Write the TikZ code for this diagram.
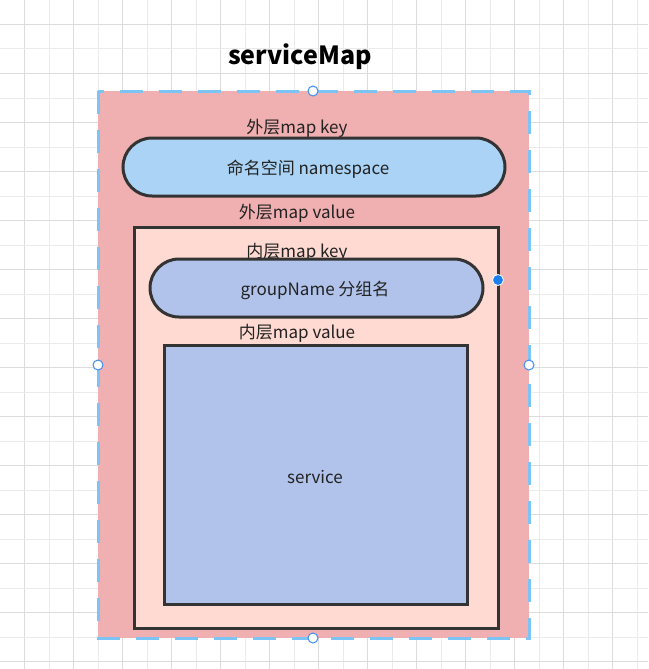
\documentclass[tikz,border=0pt]{standalone}
\usepackage{fontspec}
\setmainfont{Noto Sans CJK SC}
\definecolor{gridA}{HTML}{DCDCDC}
\definecolor{gridB}{HTML}{EBEBEB}
\definecolor{outerfill}{HTML}{F0B0B2}
\definecolor{dashblue}{HTML}{7DC4F6}
\definecolor{pillblue}{HTML}{AAD3F5}
\definecolor{innerfill}{HTML}{FFDAD2}
\definecolor{lavender}{HTML}{B1C3EA}
\definecolor{edge}{HTML}{333333}
\definecolor{txt}{HTML}{222222}
\definecolor{handle}{HTML}{3D8FF0}
\definecolor{dotblue}{HTML}{1A7FF0}
\tikzset{
  lbl/.style={font=\fontsize{17}{19}\selectfont, text=txt, inner sep=0pt},
  boxline/.style={draw=edge, line width=3pt},
  pill/.style={boxline, rounded corners=29pt},
  handlept/.style={circle, draw=handle, fill=white, line width=1pt, minimum size=10pt, inner sep=0pt},
}
\begin{document}
\begin{tikzpicture}[x=1pt,y=-1pt]
\useasboundingbox (0,0) rectangle (648,669);
\fill[white] (0,0) rectangle (648,669);
% grid
\foreach \k in {1,...,26} {
  \pgfmathtruncatemacro{\odd}{mod(\k,2)}
  \ifnum\odd=1
    \draw[gridA, line width=1pt] (24.5*\k,0) -- (24.5*\k,669);
  \else
    \draw[gridB, line width=1pt] (24.5*\k,0) -- (24.5*\k,669);
  \fi
}
\foreach \k in {1,...,27} {
  \pgfmathtruncatemacro{\odd}{mod(\k,2)}
  \ifnum\odd=1
    \draw[gridA, line width=1pt] (0,24.5*\k) -- (648,24.5*\k);
  \else
    \draw[gridB, line width=1pt] (0,24.5*\k) -- (648,24.5*\k);
  \fi
}
% title
\node[lbl, font=\fontsize{25}{29}\selectfont\bfseries, text=black] (title) at (300,57) {serviceMap};
% outer container
\fill[outerfill] (98,91) rectangle (529,638);
\draw[dashblue, line width=3pt, dash pattern=on 23pt off 16pt] (98,91) rectangle (529,638);
\node[lbl] (okey) at (297,128.5) {外层map key};
% namespace pill
\draw[pill, fill=pillblue] (123,138) rectangle (505,196);
\node[lbl] (ns) at (308,169.5) {命名空间 namespace};
\node[lbl] (oval) at (297,213.5) {外层map value};
% inner box
\draw[boxline, fill=innerfill] (134,227) rectangle (498,628);
\node[lbl] (ikey) at (297,252.5) {内层map key};
\draw[pill, fill=lavender] (150,259) rectangle (483,317);
\node[lbl] (grp) at (315,290.5) {groupName 分组名};
\node[lbl] (ival) at (297,333.5) {内层map value};
% service box
\draw[boxline, fill=lavender] (164,345) rectangle (467,604);
\node[lbl] (svc) at (315,477.5) {service};
% selection handles
\node[handlept] (h1) at (313,91) {};
\node[handlept] (h2) at (98,365) {};
\node[handlept] (h3) at (529,365) {};
\node[handlept] (h4) at (313,638) {};
\node[circle, fill=dotblue, draw=white, line width=0.8pt, minimum size=11pt, inner sep=0pt] (dot) at (498,280) {};
\end{tikzpicture}
\end{document}
